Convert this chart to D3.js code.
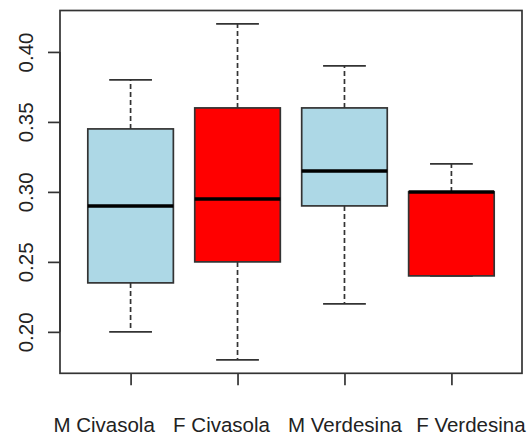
<!DOCTYPE html>
<html>
<head>
<meta charset="utf-8">
<script src="https://cdn.jsdelivr.net/npm/d3@7"></script>
<style>
  html, body { margin: 0; padding: 0; background: #fff; }
  svg { display: block; }
  text { font-family: "Liberation Sans", Arial, sans-serif; }
</style>
</head>
<body>
<div id="chart"></div>
<script>
// groups and five-number summaries
const groups = ["M Civasola", "F Civasola", "M Verdesina", "F Verdesina"];
const lowerWhisker = [0.20, 0.18, 0.22, 0.24];
const q1 = [0.235, 0.25, 0.29, 0.24];
const median = [0.29, 0.295, 0.315, 0.30];
const q3 = [0.345, 0.36, 0.36, 0.30];
const upperWhisker = [0.38, 0.42, 0.39, 0.32];
const fills = ["#ADD8E6", "#FF0000", "#ADD8E6", "#FF0000"];
const yTicks = [0.20, 0.25, 0.30, 0.35, 0.40];

const width = 529, height = 437;
const plotLeft = 60, plotRight = 522, plotTop = 10.5, plotBottom = 373.3;
// the group labels in the original sit slightly off their ticks
const labelShift = [-27, -16.5, 0, 19];

const svg = d3.select("#chart").append("svg")
    .attr("width", width)
    .attr("height", height);

// R style: xlim 0.5..n+0.5 extended by 4%
const n = groups.length;
const x = d3.scaleLinear()
    .domain([0.5 - 0.04 * n, n + 0.5 + 0.04 * n])
    .range([plotLeft, plotRight]);

const yMin = d3.min(lowerWhisker), yMax = d3.max(upperWhisker);
const pad = (yMax - yMin) * 0.04;
const y = d3.scaleLinear()
    .domain([yMin - pad, yMax + pad])
    .range([plotBottom, plotTop]);

const data = groups.map((g, i) => ({
    name: g, pos: i + 1,
    lo: lowerWhisker[i], q1: q1[i], med: median[i], q3: q3[i], hi: upperWhisker[i],
    fill: fills[i]
}));

const boxW = 0.8, capW = 0.4;
const stroke = "#333";

const g = svg.selectAll(".box").data(data).enter().append("g").attr("class", "box");

// whiskers (dashed)
g.append("line")
    .attr("x1", d => x(d.pos)).attr("x2", d => x(d.pos))
    .attr("y1", d => y(d.q3)).attr("y2", d => y(d.hi))
    .attr("stroke", stroke).attr("stroke-width", 1.7).attr("stroke-dasharray", "5,3");
g.append("line")
    .attr("x1", d => x(d.pos)).attr("x2", d => x(d.pos))
    .attr("y1", d => y(d.q1)).attr("y2", d => y(d.lo))
    .attr("stroke", stroke).attr("stroke-width", 1.7).attr("stroke-dasharray", "5,3");

// caps
g.append("line")
    .attr("x1", d => x(d.pos - capW / 2)).attr("x2", d => x(d.pos + capW / 2))
    .attr("y1", d => y(d.hi)).attr("y2", d => y(d.hi))
    .attr("stroke", stroke).attr("stroke-width", 1.7);
g.append("line")
    .attr("x1", d => x(d.pos - capW / 2)).attr("x2", d => x(d.pos + capW / 2))
    .attr("y1", d => y(d.lo)).attr("y2", d => y(d.lo))
    .attr("stroke", stroke).attr("stroke-width", 1.7);

// boxes
g.append("rect")
    .attr("x", d => x(d.pos - boxW / 2))
    .attr("width", d => x(d.pos + boxW / 2) - x(d.pos - boxW / 2))
    .attr("y", d => y(d.q3))
    .attr("height", d => y(d.q1) - y(d.q3))
    .attr("fill", d => d.fill)
    .attr("stroke", stroke).attr("stroke-width", 1.7);

// medians
g.append("line")
    .attr("x1", d => x(d.pos - boxW / 2)).attr("x2", d => x(d.pos + boxW / 2))
    .attr("y1", d => y(d.med)).attr("y2", d => y(d.med))
    .attr("stroke", "#000").attr("stroke-width", 3.5);

// frame
svg.append("rect")
    .attr("x", plotLeft).attr("y", plotTop)
    .attr("width", plotRight - plotLeft).attr("height", plotBottom - plotTop)
    .attr("fill", "none").attr("stroke", stroke).attr("stroke-width", 1.7);

// y axis
const yAxis = svg.append("g")
    .attr("transform", `translate(${plotLeft},0)`)
    .call(d3.axisLeft(y).tickValues(yTicks).tickSize(12).tickFormat(d3.format(".2f")));
yAxis.select(".domain")
    .attr("d", `M0,${y(yTicks[0])}V${y(yTicks[yTicks.length - 1])}`)
    .attr("stroke", stroke).attr("stroke-width", 1.7);
yAxis.selectAll(".tick line").attr("stroke", stroke).attr("stroke-width", 1.7);
yAxis.selectAll(".tick text")
    .attr("x", null).attr("dy", null)
    .attr("transform", "translate(-27,0) rotate(-90)")
    .attr("text-anchor", "middle")
    .attr("font-size", 20.5)
    .attr("fill", "#222");

// x axis
const xAxis = svg.append("g")
    .attr("transform", `translate(0,${plotBottom})`)
    .call(d3.axisBottom(x).tickValues(data.map(d => d.pos)).tickSize(12)
        .tickFormat(d => groups[d - 1]));
xAxis.select(".domain").remove();
xAxis.selectAll(".tick line").attr("stroke", stroke).attr("stroke-width", 1.7);
xAxis.selectAll(".tick text")
    .attr("x", (d, i) => labelShift[i])
    .attr("y", 58.5).attr("dy", null)
    .attr("font-size", 20.5)
    .attr("fill", "#222");
</script>
</body>
</html>
